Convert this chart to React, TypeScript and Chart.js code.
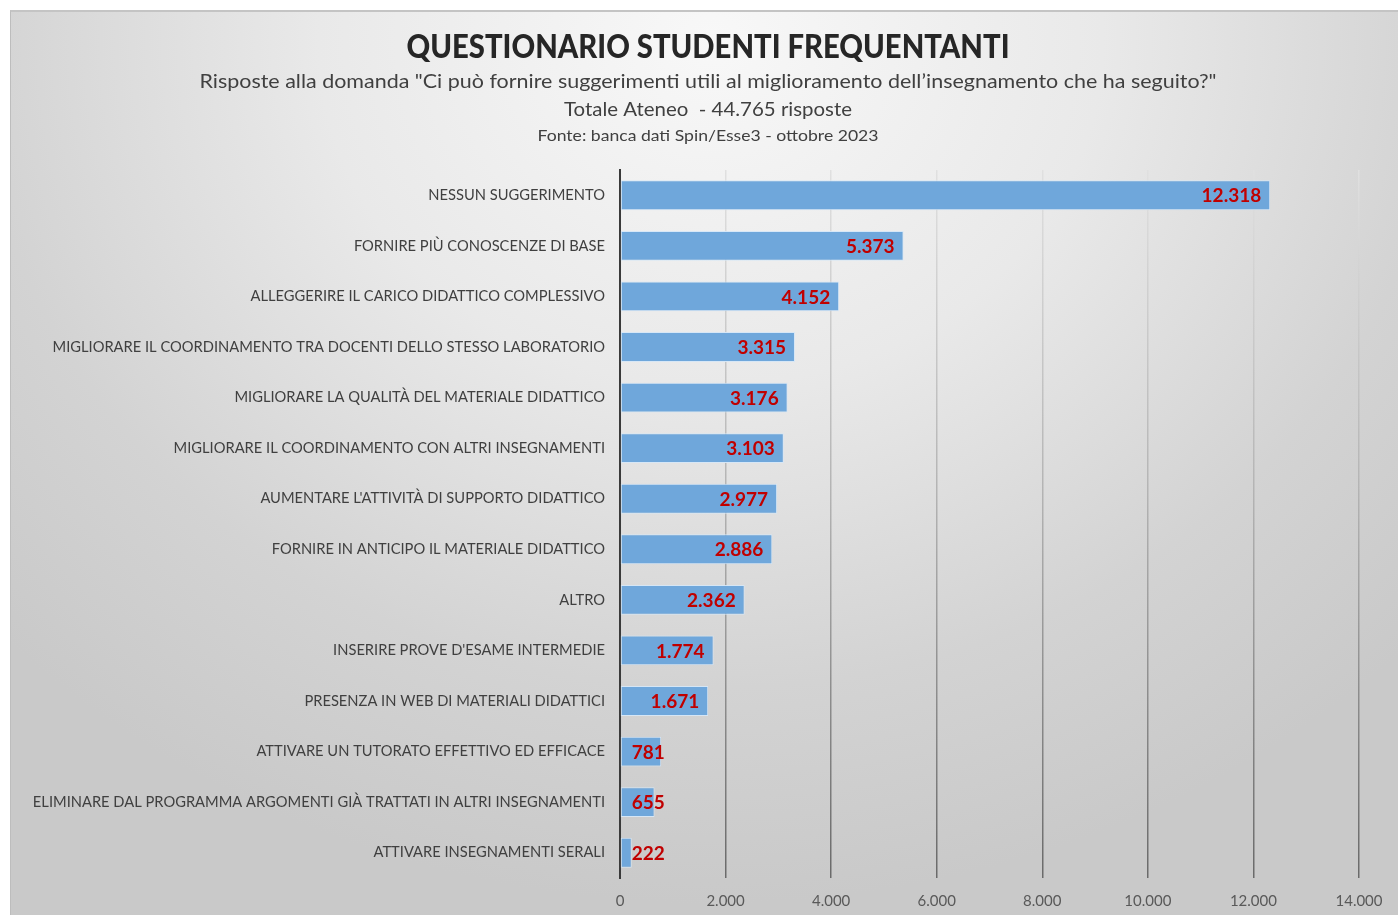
import React, { useEffect, useRef } from "react";
import { Chart, registerables } from "chart.js";

Chart.register(...registerables);

const categories = [
  "NESSUN SUGGERIMENTO",
  "FORNIRE PIÙ CONOSCENZE DI BASE",
  "ALLEGGERIRE IL CARICO DIDATTICO COMPLESSIVO",
  "MIGLIORARE IL COORDINAMENTO TRA DOCENTI DELLO STESSO LABORATORIO",
  "MIGLIORARE LA QUALITÀ DEL MATERIALE DIDATTICO",
  "MIGLIORARE IL COORDINAMENTO CON ALTRI INSEGNAMENTI",
  "AUMENTARE L'ATTIVITÀ DI SUPPORTO DIDATTICO",
  "FORNIRE IN ANTICIPO IL MATERIALE DIDATTICO",
  "ALTRO",
  "INSERIRE PROVE D'ESAME INTERMEDIE",
  "PRESENZA IN WEB DI MATERIALI DIDATTICI",
  "ATTIVARE UN TUTORATO EFFETTIVO ED EFFICACE",
  "ELIMINARE DAL PROGRAMMA ARGOMENTI GIÀ TRATTATI IN ALTRI INSEGNAMENTI",
  "ATTIVARE INSEGNAMENTI SERALI",
];

const responses = [12318, 5373, 4152, 3315, 3176, 3103, 2977, 2886, 2362, 1774, 1671, 781, 655, 222];

const axisMin = 0;
const axisMax = 14000;
const axisStep = 2000;

const titleText = "QUESTIONARIO STUDENTI FREQUENTANTI";
const subtitleLines = [
  'Risposte alla domanda "Ci può fornire suggerimenti utili al miglioramento dell\u2019insegnamento che ha seguito?"',
  "Totale Ateneo  - 44.765 risposte",
  "Fonte: banca dati Spin/Esse3 - ottobre 2023",
];

const FONT = "Lato, 'Open Sans', sans-serif";

function fmt(n: number): string {
  return Math.round(n)
    .toString()
    .replace(/\B(?=(\d{3})+(?!\d))/g, ".");
}

const titlesPlugin = {
  id: "titles",
  afterDraw(chart: any) {
    const ctx = chart.ctx as CanvasRenderingContext2D;
    const cx = 708;
    const draw = (text: string, y: number, font: string, color: string, targetW: number) => {
      ctx.save();
      ctx.font = font;
      ctx.fillStyle = color;
      ctx.textAlign = "center";
      ctx.textBaseline = "middle";
      const w = ctx.measureText(text).width;
      const sx = targetW / w;
      ctx.translate(cx, y);
      ctx.scale(sx, 1);
      ctx.fillText(text, 0, 0);
      ctx.restore();
    };
    draw(titleText, 47, `900 33px ${FONT}`, "#262626", 603);
    draw(subtitleLines[0], 82, `20px ${FONT}`, "#404040", 1017);
    draw(subtitleLines[1], 110, `20px ${FONT}`, "#404040", 288);
    draw(subtitleLines[2], 136, `16px ${FONT}`, "#404040", 341);
  },
};

const valueLabelsPlugin = {
  id: "valueLabels",
  afterDatasetsDraw(chart: any) {
    const ctx = chart.ctx as CanvasRenderingContext2D;
    const meta = chart.getDatasetMeta(0);
    const data = chart.data.datasets[0].data as number[];
    ctx.save();
    ctx.font = `bold 19px ${FONT}`;
    ctx.fillStyle = "#c00000";
    ctx.textAlign = "right";
    ctx.textBaseline = "middle";
    meta.data.forEach((bar: any, i: number) => {
      const { x, y, base } = bar.getProps(["x", "y", "base"], true);
      const t = fmt(data[i]);
      const w = ctx.measureText(t).width;
      const right = Math.max(x - 9, base + 11 + w);
      ctx.fillText(t, right, y + 1);
    });
    ctx.restore();
  },
};

export default function App() {
  const canvasRef = useRef<HTMLCanvasElement | null>(null);

  useEffect(() => {
    const canvas = canvasRef.current;
    if (!canvas) return;
    const chart = new Chart(canvas, {
      type: "bar",
      data: {
        labels: categories,
        datasets: [
          {
            data: responses,
            backgroundColor: "#6fa7db",
            borderColor: "rgba(214,231,247,0.95)",
            borderWidth: 1,
            borderSkipped: false,
            barPercentage: 0.59,
            categoryPercentage: 1,
          },
        ],
      },
      options: {
        indexAxis: "y",
        responsive: false,
        animation: false,
        maintainAspectRatio: false,
        layout: { padding: { top: 170, left: 10, right: 39, bottom: 0 } },
        plugins: {
          legend: { display: false },
          tooltip: { enabled: false },
          title: { display: false },
        },
        scales: {
          x: {
            min: axisMin,
            max: axisMax,
            ticks: {
              stepSize: axisStep,
              color: "#595959",
              font: { family: FONT, size: 15 },
              padding: 14,
              maxRotation: 0,
              callback: (v: any) => fmt(Number(v)),
            },
            grid: {
              drawTicks: false,
              lineWidth: 1.5,
              color: (c: any) => {
                const area = c.chart.chartArea;
                if (!area) return "#999";
                const g = c.chart.ctx.createLinearGradient(0, area.top, 0, area.bottom);
                g.addColorStop(0, "#e0e0e0");
                g.addColorStop(0.45, "#b4b4b4");
                g.addColorStop(1, "#6a6a6a");
                return g;
              },
            },
            border: { display: false },
            afterFit: (scale: any) => {
              scale.height = 37;
            },
          },
          y: {
            ticks: {
              color: "#404040",
              font: { family: FONT, size: 14.7 },
              padding: 15,
              autoSkip: false,
            },
            grid: { display: false, drawTicks: false },
            border: { display: true, color: "#3a3a3a", width: 2 },
            afterFit: (scale: any) => {
              scale.width = 610;
            },
          },
        },
      },
      plugins: [titlesPlugin, valueLabelsPlugin],
    });
    return () => chart.destroy();
  }, []);

  return (
    <div
      style={{
        position: "absolute",
        left: 0,
        top: 0,
        width: 1398,
        height: 915,
        background: "#ffffff",
        overflow: "hidden",
      }}
    >
      <div
        style={{
          position: "absolute",
          left: 10,
          top: 10,
          width: 1400,
          height: 910,
          borderTop: "2px solid #c4c4c4",
          borderLeft: "1px solid #bdbdbd",
          background:
            "radial-gradient(ellipse 70% 95% at 50% 3%, #f8f8f8 0%, #e9e9e9 40%, #d3d3d3 75%, #c9c9c9 100%)",
        }}
      />
      <canvas
        ref={canvasRef}
        width={1398}
        height={915}
        style={{ position: "absolute", left: 0, top: 0, width: 1398, height: 915 }}
      />
    </div>
  );
}
